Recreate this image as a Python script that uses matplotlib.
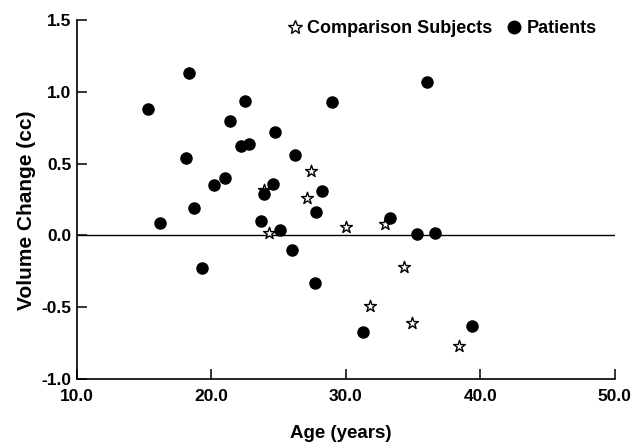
import matplotlib.pyplot as plt
from matplotlib.lines import Line2D

plt.rcParams['font.family'] = ['Liberation Sans', 'DejaVu Sans']
plt.rcParams['font.weight'] = 'bold'

# patients (filled circles)
patient_age = [15.3, 18.3, 18.1, 16.2, 18.7, 20.2, 21.0, 21.4, 22.5, 22.2,
               22.8, 24.7, 26.2, 24.6, 23.9, 23.7, 25.1, 19.3, 26.0, 27.7,
               27.8, 28.2, 29.0, 36.0, 33.3, 35.3, 36.6, 31.3, 39.4]
patient_change = [0.88, 1.13, 0.54, 0.09, 0.19, 0.35, 0.40, 0.80, 0.94, 0.62,
                  0.64, 0.72, 0.56, 0.36, 0.29, 0.10, 0.04, -0.23, -0.10, -0.33,
                  0.16, 0.31, 0.93, 1.07, 0.12, 0.01, 0.02, -0.67, -0.63]

# comparison subjects (open stars)
comp_age = [23.9, 24.3, 27.4, 27.1, 30.0, 32.9, 34.3, 31.8, 34.9, 38.4]
comp_change = [0.32, 0.02, 0.45, 0.26, 0.06, 0.08, -0.22, -0.49, -0.61, -0.77]

xticks = [10.0, 20.0, 30.0, 40.0, 50.0]
yticks = [-1.0, -0.5, 0.0, 0.5, 1.0, 1.5]

fig = plt.figure(figsize=(6.38, 4.42), dpi=100)
ax = fig.add_axes([0.1207, 0.1425, 0.843, 0.812])

ax.plot([10, 50], [0, 0], color='black', lw=1.0, zorder=1)
ax.scatter(comp_age, comp_change, marker='*', s=80, facecolor='white',
           edgecolor='black', linewidths=1.0, zorder=2)
ax.scatter(patient_age, patient_change, marker='o', s=64, color='black', zorder=3)

ax.set_xlim(10, 50)
ax.set_ylim(-1.0, 1.5)
ax.set_xticks(xticks)
ax.set_xticklabels(['%.1f' % v for v in xticks])
ax.set_yticks(yticks)
ax.set_yticklabels(['%.1f' % v for v in yticks])
ax.tick_params(direction='in', length=7, width=1.1, labelsize=12.5)
ax.tick_params(axis='x', pad=7)
ax.tick_params(axis='y', pad=4)

for s in ['top', 'right']:
    ax.spines[s].set_visible(False)
for s in ['left', 'bottom']:
    ax.spines[s].set_linewidth(1.2)

ax.set_xlabel('Age (years)', fontsize=13.5, fontweight='bold')
ax.set_ylabel('Volume Change (cc)', fontsize=15, fontweight='bold')
ax.xaxis.set_label_coords(0.49, -0.128)
ax.yaxis.set_label_coords(-0.076, 0.47)

handles = [
    Line2D([], [], marker='*', ls='none', markersize=10, markerfacecolor='white',
           markeredgecolor='black', markeredgewidth=1.0, label='Comparison Subjects'),
    Line2D([], [], marker='o', ls='none', markersize=9, color='black', label='Patients'),
]
ax.legend(handles=handles, ncol=2, frameon=False, loc='upper right',
          bbox_to_anchor=(0.99, 1.035), handletextpad=0.2, columnspacing=0.7,
          handlelength=1.0, borderpad=0.2, prop={'size': 13, 'weight': 'bold'})

fig.savefig('out.png', dpi=100)
